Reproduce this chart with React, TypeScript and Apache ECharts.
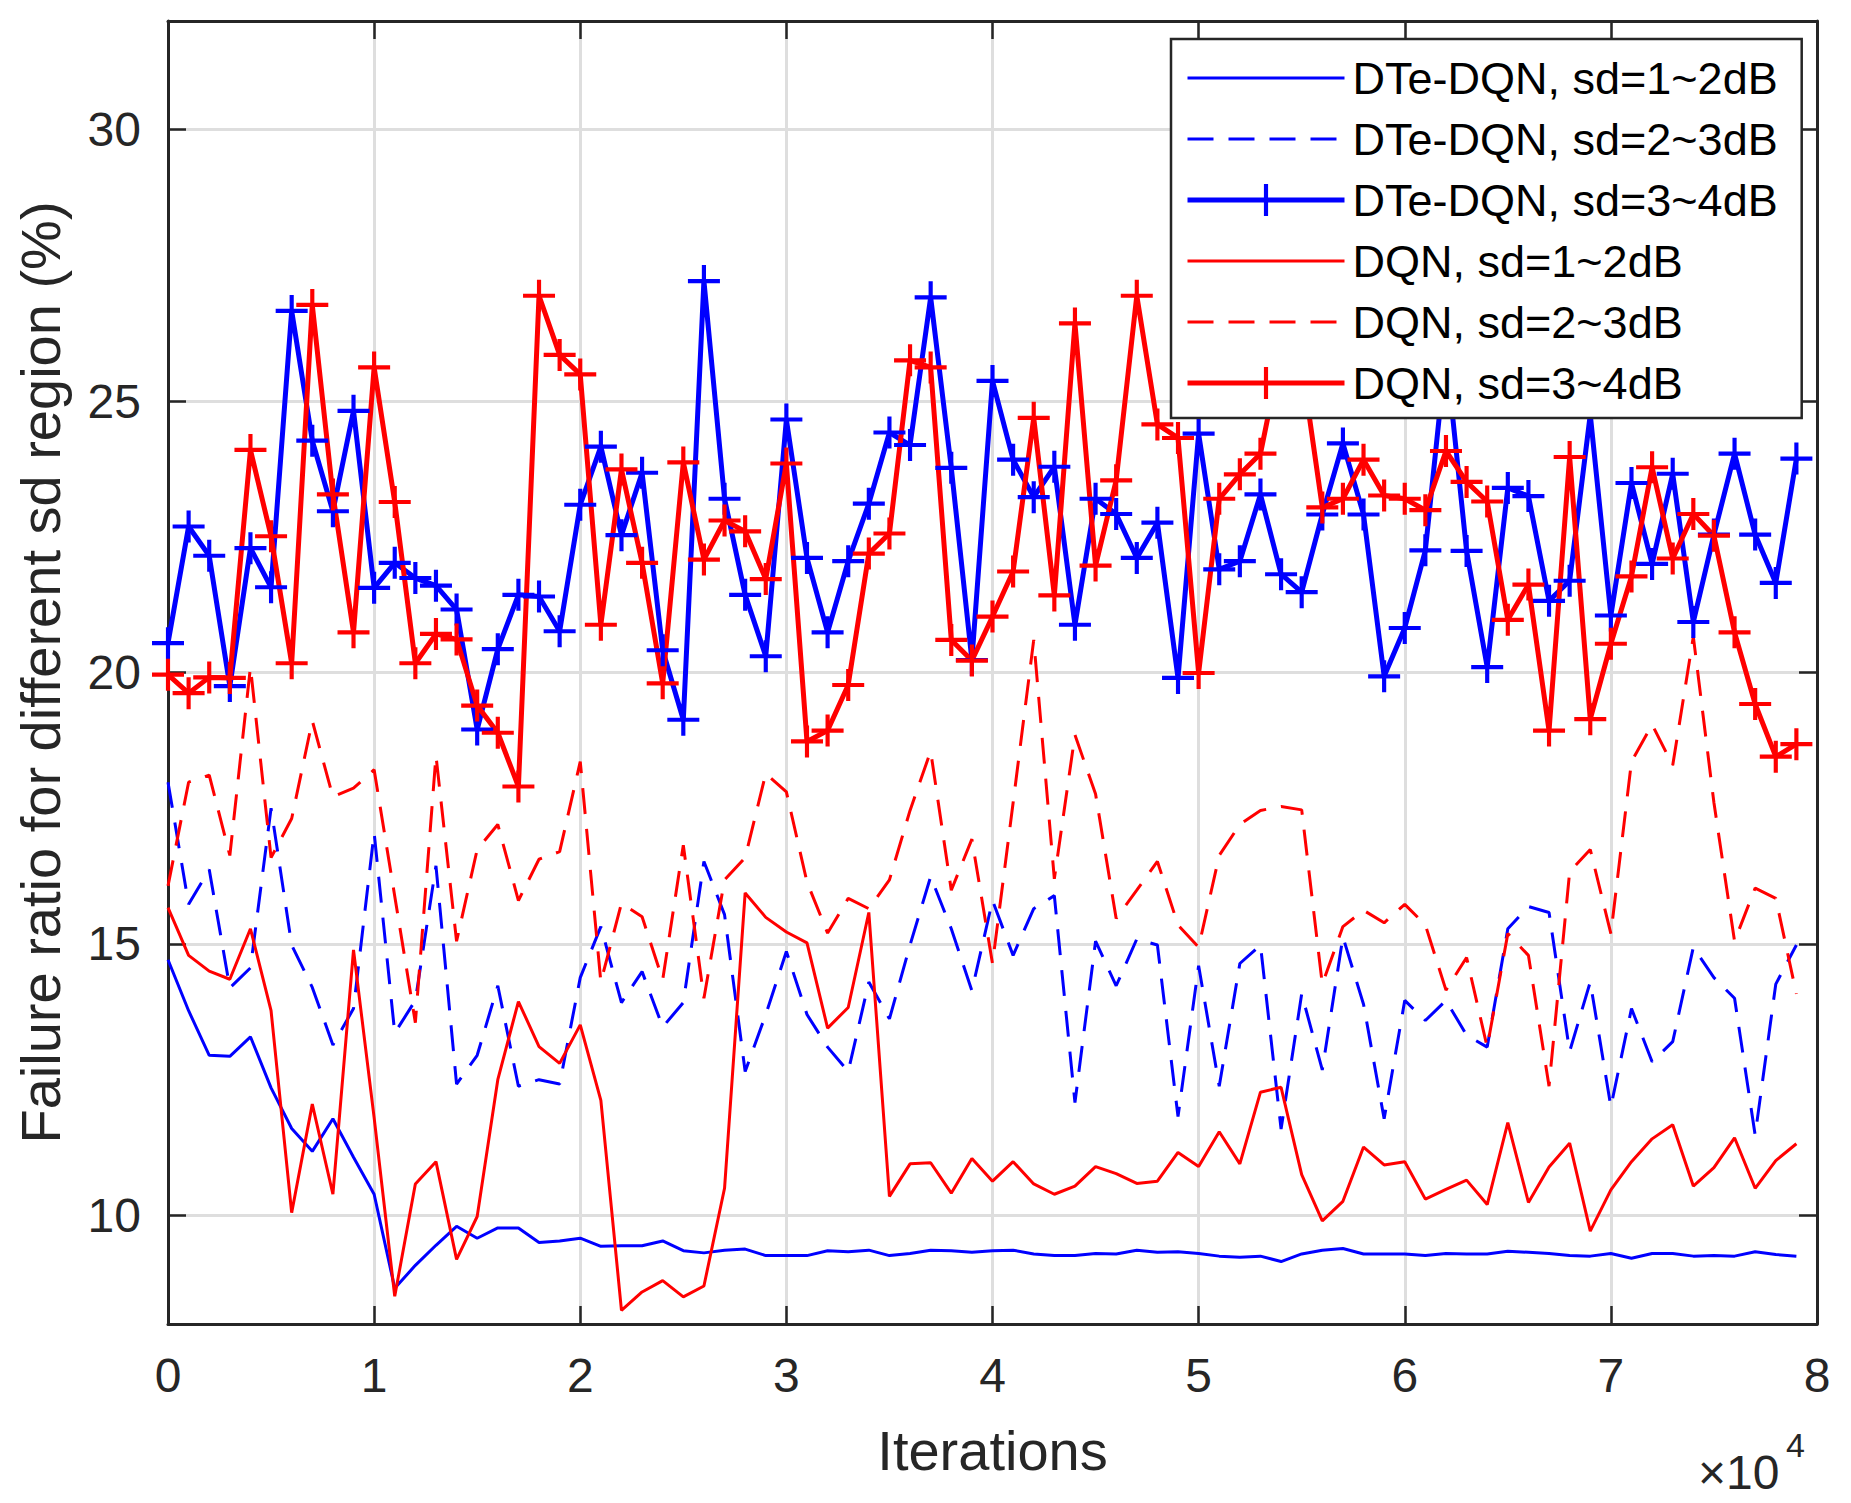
import React, { useEffect, useRef } from 'react';
import * as echarts from 'echarts';

// sampled every 1000 iterations, 0 .. 79000
const STEP = 1000;

const dte12 = [
  14.71, 13.77, 12.95, 12.93, 13.29, 12.35, 11.6, 11.18, 11.78, 11.07,
  10.39, 8.66, 9.08, 9.45, 9.8, 9.58, 9.77, 9.77, 9.5, 9.53,
  9.58, 9.43, 9.44, 9.44, 9.53, 9.35, 9.31, 9.36, 9.38, 9.26,
  9.26, 9.26, 9.35, 9.33, 9.36, 9.26, 9.3, 9.36, 9.35, 9.32,
  9.35, 9.36, 9.29, 9.26, 9.26, 9.3, 9.29, 9.36, 9.32, 9.33,
  9.3, 9.25, 9.23, 9.25, 9.15, 9.29, 9.36, 9.39, 9.29, 9.29,
  9.29, 9.26, 9.3, 9.29, 9.29, 9.34, 9.32, 9.3, 9.26, 9.25,
  9.3, 9.21, 9.3, 9.3, 9.25, 9.26, 9.25, 9.33, 9.28, 9.25,
];

const dte23 = [
  17.98, 15.73, 16.37, 14.19, 14.56, 17.5, 14.98, 14.2, 13.14, 13.81,
  17.05, 13.36, 13.96, 16.44, 12.42, 12.95, 14.23, 12.38, 12.5, 12.42,
  14.38, 15.32, 13.92, 14.49, 13.47, 13.92, 16.52, 15.54, 12.65, 13.7,
  14.86, 13.7, 13.1, 12.65, 14.3, 13.62, 14.98, 16.24, 15.28, 14.14,
  15.8, 14.79, 15.65, 15.89, 12.08, 15.05, 14.23, 15.09, 14.98, 11.82,
  14.6, 12.38, 14.64, 14.98, 11.59, 14.08, 12.68, 15.13, 13.89, 11.78,
  13.96, 13.59, 13.96, 13.32, 13.1, 15.28, 15.69, 15.58, 13.02, 14.3,
  12.0, 13.81, 12.83, 13.2, 14.94, 14.38, 14.0, 11.48, 14.26, 14.98,
];

const dte34 = [
  20.54, 22.69, 22.15, 19.75, 22.29, 21.57, 26.66, 24.27, 22.97, 24.82,
  21.56, 22.02, 21.74, 21.6, 21.16, 18.95, 20.43, 21.43, 21.4, 20.76,
  23.09, 24.16, 22.53, 23.68, 20.41, 19.13, 27.21, 23.2, 21.43, 20.3,
  24.66, 22.11, 20.74, 22.05, 23.11, 24.42, 24.19, 26.91, 23.77, 20.23,
  25.37, 23.92, 23.23, 23.79, 20.88, 23.2, 22.92, 22.11, 22.76, 19.9,
  24.4, 21.9, 22.05, 23.28, 21.81, 21.48, 22.91, 24.22, 22.91, 19.93,
  20.82, 22.25, 25.9, 22.24, 20.1, 23.4, 23.25, 21.32, 21.69, 24.75,
  21.05, 23.49, 22.0, 23.66, 20.93, 22.54, 24.03, 22.54, 21.65, 23.94,
];

const dqn12 = [
  15.67, 14.79, 14.5, 14.35, 15.28, 13.77, 10.05, 12.05, 10.39, 14.89,
  11.8, 8.51, 10.58, 10.99, 9.19, 9.98, 12.5, 13.94, 13.11, 12.8,
  13.51, 12.12, 8.25, 8.59, 8.8, 8.5, 8.7, 10.5, 15.94, 15.49,
  15.22, 15.02, 13.45, 13.83, 15.58, 10.35, 10.95, 10.97, 10.41, 11.05,
  10.63, 10.99, 10.58, 10.39, 10.54, 10.9, 10.77, 10.59, 10.63, 11.16,
  10.9, 11.54, 10.95, 12.27, 12.36, 10.75, 9.9, 10.26, 11.26, 10.93,
  10.99, 10.3, 10.48, 10.65, 10.2, 11.71, 10.24, 10.89, 11.33, 9.71,
  10.47, 10.99, 11.41, 11.67, 10.54, 10.88, 11.43, 10.5, 11.01, 11.32,
];

const dqn23 = [
  16.07, 17.98, 18.11, 16.63, 20.1, 16.59, 17.31, 19.11, 17.71, 17.87,
  18.21, 15.88, 13.55, 18.47, 15.05, 16.74, 17.2, 15.8, 16.56, 16.7,
  18.36, 14.3, 15.75, 15.5, 14.34, 16.82, 14.0, 16.18, 16.59, 18.14,
  17.8, 16.14, 15.2, 15.84, 15.65, 16.18, 17.46, 18.55, 15.99, 16.93,
  14.64, 17.6, 20.6, 16.2, 18.85, 17.76, 15.47, 15.99, 16.52, 15.35,
  14.94, 16.63, 17.2, 17.46, 17.53, 17.47, 14.26, 15.32, 15.62, 15.39,
  15.73, 15.35, 14.15, 14.75, 13.1, 15.19, 14.79, 12.38, 16.33, 16.74,
  15.19, 18.36, 19.04, 18.29, 20.66, 17.6, 15.05, 16.03, 15.84, 14.08,
];

const dqn34 = [
  19.96, 19.62, 19.91, 19.9, 24.1, 22.51, 20.17, 26.77, 23.28, 20.74,
  25.62, 23.14, 20.17, 20.71, 20.61, 19.39, 18.89, 17.9, 26.94, 25.85,
  25.49, 20.88, 23.74, 22.02, 19.8, 23.87, 22.08, 22.8, 22.6, 21.72,
  23.85, 18.73, 18.93, 19.77, 22.19, 22.56, 25.75, 25.62, 20.6, 20.22,
  21.03, 21.86, 24.69, 21.42, 26.43, 21.97, 23.54, 26.94, 24.57, 24.32,
  19.99, 23.2, 23.65, 24.03, 25.9, 25.7, 23.04, 23.2, 23.92, 23.26,
  23.2, 22.99, 24.08, 23.51, 23.15, 20.97, 21.62, 18.93, 23.97, 19.14,
  20.53, 21.77, 23.78, 22.1, 22.92, 22.52, 20.74, 19.42, 18.45, 18.68,
];

const seriesNames = [
  'DTe-DQN, sd=1~2dB',
  'DTe-DQN, sd=2~3dB',
  'DTe-DQN, sd=3~4dB',
  'DQN, sd=1~2dB',
  'DQN, sd=2~3dB',
  'DQN, sd=3~4dB',
];
const hasMarker = [false, false, true, false, false, true];

const FONT = '"Liberation Sans", Arial, Helvetica, sans-serif';
const AXIS_COLOR = '#262626';
const PLUS = 'path://M-0.13,-1 L0.13,-1 L0.13,1 L-0.13,1 Z M-1,-0.13 L1,-0.13 L1,0.13 L-1,0.13 Z';

function mkSeries(name: string, values: number[], color: string, dashed: boolean, marker: boolean) {
  return {
    name,
    type: 'line',
    data: values.map((v, i) => [i * STEP, v]),
    symbol: marker ? PLUS : 'none',
    symbolSize: 32,
    showSymbol: marker,
    itemStyle: { color },
    lineStyle: { color, width: marker ? 5 : 3, type: dashed ? [26, 15] : 'solid' },
    emphasis: { disabled: true },
  };
}

export default function App() {
  const ref = useRef<HTMLDivElement>(null);
  useEffect(() => {
    document.body.style.margin = '0';
    if (!ref.current) return;
    const chart = echarts.init(ref.current, undefined, { renderer: 'svg' });
    const tickStyle = { show: true, inside: true, length: 18, lineStyle: { color: AXIS_COLOR, width: 2.5 } };
    const lineAxis = { show: true, onZero: false, lineStyle: { color: AXIS_COLOR, width: 3 } };
    chart.setOption({
      animation: false,
      backgroundColor: '#fff',
      grid: { left: 168, right: 34, top: 21, bottom: 179, containLabel: false },
      legend: {
        orient: 'vertical',
        left: 1171,
        top: 39,
        data: seriesNames.map((name, i) =>
          hasMarker[i] ? { name } : { name, itemStyle: { opacity: 0 } }
        ),
        itemWidth: 157,
        itemHeight: 40,
        itemGap: 11,
        padding: [14, 24, 10, 14],
        backgroundColor: '#fff',
        borderColor: AXIS_COLOR,
        borderWidth: 2.5,
        lineStyle: { width: 'inherit' },
        textStyle: { fontFamily: FONT, fontSize: 45, color: '#000', lineHeight: 50, padding: [0, 0, 0, 3] },
        selectedMode: false,
      },
      xAxis: [
        {
          type: 'value',
          min: 0,
          max: 80000,
          interval: 10000,
          name: 'Iterations',
          nameLocation: 'middle',
          nameGap: 98,
          nameTextStyle: { fontFamily: FONT, fontSize: 56, color: AXIS_COLOR },
          axisLine: lineAxis,
          axisTick: tickStyle,
          axisLabel: {
            margin: 27,
            fontFamily: FONT,
            fontSize: 48,
            color: AXIS_COLOR,
            formatter: (v: number) => String(v / 10000),
          },
          splitLine: { show: true, lineStyle: { color: '#dedede', width: 3 } },
        },
        {
          type: 'value',
          position: 'top',
          min: 0,
          max: 80000,
          interval: 10000,
          axisLine: lineAxis,
          axisTick: tickStyle,
          axisLabel: { show: false },
          splitLine: { show: false },
        },
      ],
      yAxis: [
        {
          type: 'value',
          min: 8,
          max: 32,
          splitNumber: 5,
          name: 'Failure ratio for different sd region (%)',
          nameLocation: 'middle',
          nameGap: 100,
          nameTextStyle: { fontFamily: FONT, fontSize: 56, color: AXIS_COLOR },
          axisLine: lineAxis,
          axisTick: tickStyle,
          axisLabel: {
            margin: 27,
            fontFamily: FONT,
            fontSize: 48,
            color: AXIS_COLOR,
            showMinLabel: false,
            showMaxLabel: false,
          },
          splitLine: { show: true, lineStyle: { color: '#dedede', width: 3 } },
        },
        {
          type: 'value',
          position: 'right',
          min: 8,
          max: 32,
          splitNumber: 5,
          axisLine: lineAxis,
          axisTick: tickStyle,
          axisLabel: { show: false },
          splitLine: { show: false },
        },
      ],
      graphic: [
        {
          type: 'text',
          left: 1698,
          top: 1448,
          style: { text: '×10', fontFamily: FONT, fontSize: 48, fill: AXIS_COLOR },
        },
        {
          type: 'text',
          left: 1786,
          top: 1428,
          style: { text: '4', fontFamily: FONT, fontSize: 34, fill: AXIS_COLOR },
        },
      ],
      series: [
        mkSeries(seriesNames[0], dte12, '#0000ff', false, false),
        mkSeries(seriesNames[1], dte23, '#0000ff', true, false),
        mkSeries(seriesNames[2], dte34, '#0000ff', false, true),
        mkSeries(seriesNames[3], dqn12, '#ff0000', false, false),
        mkSeries(seriesNames[4], dqn23, '#ff0000', true, false),
        mkSeries(seriesNames[5], dqn34, '#ff0000', false, true),
      ],
    });
    return () => chart.dispose();
  }, []);
  return <div ref={ref} style={{ width: 1851, height: 1503 }} />;
}
